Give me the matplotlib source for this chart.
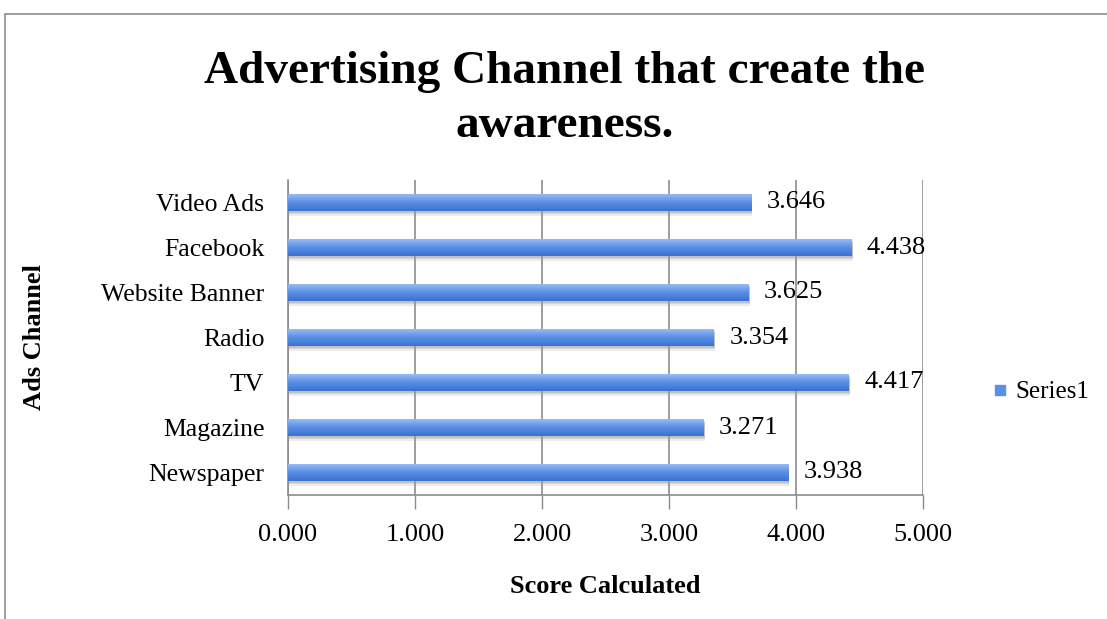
import matplotlib
matplotlib.use("Agg")
import matplotlib.pyplot as plt
import numpy as np
from matplotlib.patches import Rectangle
from matplotlib.lines import Line2D
from matplotlib.colors import LinearSegmentedColormap

categories = ["Newspaper", "Magazine", "TV", "Radio", "Website Banner", "Facebook", "Video Ads"]
values = [3.938, 3.271, 4.417, 3.354, 3.625, 4.438, 3.646]
xticks = [0, 1, 2, 3, 4, 5]
series_name = "Series1"

plt.rcParams['font.family'] = ['Liberation Serif', 'DejaVu Serif']

fig = plt.figure(figsize=(11.07, 6.19), dpi=100)
fig.patch.set_facecolor('white')
# outer frame
fig.add_artist(Rectangle((5/1107, -0.01), 1.02, 1 - 14/619 + 0.01, transform=fig.transFigure,
                         fill=False, edgecolor='#8c8c8c', lw=1.2))

ax = fig.add_axes([288/1107, 1 - 495/619, (923-288)/1107, (495-180)/619])
y = np.arange(len(categories))
bars = ax.barh(y, values, height=0.39, color='#6a9be8', zorder=3)

grad = np.linspace(0, 1, 64).reshape(-1, 1)
cmap = LinearSegmentedColormap.from_list('g', ['#3a72d2', '#5b90e6', '#9dc0f5'])
for b in bars:
    x0, y0, w, h = b.get_x(), b.get_y(), b.get_width(), b.get_height()
    # soft shadow below the bar
    for k, a in zip([0.10, 0.07, 0.04], [0.18, 0.25, 0.35]):
        ax.add_patch(Rectangle((x0, y0 - k), w + 0.01, h, color='#9a9a9a', alpha=a, zorder=2, lw=0))
    im = ax.imshow(grad, extent=[x0, x0 + w, y0, y0 + h], aspect='auto', cmap=cmap,
                   origin='lower', zorder=4)
    im.set_clip_path(b)

for yi, v in zip(y, values):
    ax.text(v + 0.12, yi, f"{v:.3f}", va='center', ha='left', fontsize=19, zorder=5)

ax.set_xlim(0, 5)
ax.set_ylim(-0.5, len(categories) - 0.5)
ax.set_xticks(xticks)
ax.set_xticklabels([f"{t:.3f}" for t in xticks], fontsize=19)
ax.set_yticks(y)
ax.set_yticklabels(categories, fontsize=18.5)
ax.tick_params(axis='y', length=0, pad=17)
ax.tick_params(axis='x', length=10, width=1, color='#8c8c8c', pad=11, direction='out')
ax.grid(axis='x', color='#8c8c8c', lw=1.2, zorder=0)
for s in ['top', 'right']:
    ax.spines[s].set_visible(False)
for s in ['left', 'bottom']:
    ax.spines[s].set_color('#8c8c8c')
    ax.spines[s].set_linewidth(1.2)

ax.set_xlabel("Score Calculated", fontsize=19, fontweight='bold', labelpad=21)
fig.text(35/1107, 1 - 337/619, "Ads Channel", rotation=90, fontsize=19, fontweight='bold',
         ha='center', va='center')

fig.text(565/1107, 1 - 99/619, "Advertising Channel that create the\nawareness.",
         ha='center', va='center', fontsize=34, fontweight='bold', linespacing=1.35)

handle = Line2D([], [], marker='s', color='#5b90e6', linestyle='None', markersize=7)
fig.legend([handle], [series_name], loc='center left', bbox_to_anchor=(970/1107, 1 - 392/619),
           frameon=False, fontsize=18, handletextpad=0.1, handlelength=1.0, borderpad=0.2)

fig.savefig("out.png", dpi=100)
